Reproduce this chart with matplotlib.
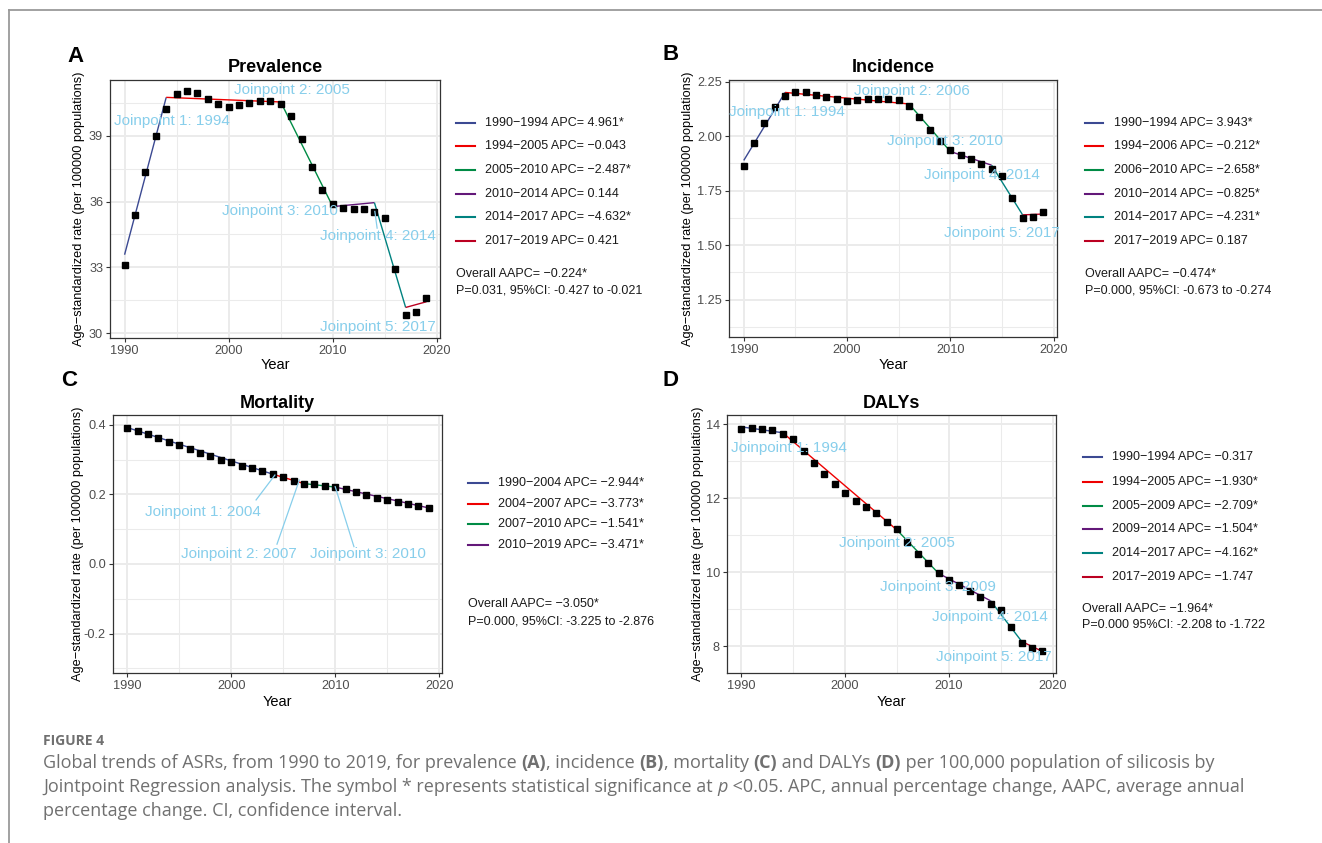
import matplotlib
matplotlib.use("Agg")
import matplotlib.pyplot as plt
from matplotlib.lines import Line2D

W, H = 1322, 843
plt.rcParams['font.family'] = ['Liberation Sans', 'DejaVu Sans']

# ---------------- data ----------------
years = list(range(1990, 2020))

prevalence = [33.12, 35.39, 37.36, 38.98, 40.23, 40.88, 41.03, 40.92, 40.67, 40.45,
              40.32, 40.38, 40.47, 40.56, 40.59, 40.44, 39.89, 38.83, 37.59, 36.53,
              35.89, 35.71, 35.67, 35.64, 35.53, 35.24, 32.92, 30.83, 30.97, 31.61]
incidence = [1.864, 1.968, 2.062, 2.134, 2.184, 2.204, 2.201, 2.190, 2.178, 2.169,
             2.163, 2.166, 2.169, 2.172, 2.171, 2.166, 2.139, 2.088, 2.029, 1.977,
             1.939, 1.916, 1.895, 1.873, 1.851, 1.819, 1.715, 1.627, 1.631, 1.651]
mortality = [0.391, 0.382, 0.372, 0.362, 0.350, 0.343, 0.331, 0.320, 0.310, 0.300,
             0.292, 0.281, 0.275, 0.268, 0.259, 0.251, 0.239, 0.231, 0.229, 0.224,
             0.220, 0.214, 0.208, 0.199, 0.190, 0.185, 0.179, 0.173, 0.167, 0.161]
dalys = [13.87, 13.89, 13.88, 13.85, 13.74, 13.59, 13.28, 12.95, 12.66, 12.38,
         12.14, 11.92, 11.76, 11.60, 11.37, 11.17, 10.82, 10.50, 10.24, 9.97,
         9.79, 9.65, 9.50, 9.34, 9.14, 8.98, 8.53, 8.08, 7.95, 7.88]

# joinpoint segment end years and fitted values at those years
prev_jp_years = [1990, 1994, 2005, 2010, 2014, 2017, 2019]
prev_jp_fit = [33.58, 40.74, 40.53, 35.77, 35.95, 31.18, 31.44]
inc_jp_years = [1990, 1994, 2006, 2010, 2014, 2017, 2019]
inc_jp_fit = [1.889, 2.201, 2.148, 1.930, 1.867, 1.639, 1.643]
mort_jp_years = [1990, 2004, 2007, 2010, 2019]
mort_jp_fit = [0.392, 0.258, 0.231, 0.221, 0.161]
daly_jp_years = [1990, 1994, 2005, 2009, 2014, 2017, 2019]
daly_jp_fit = [13.93, 13.77, 11.14, 9.97, 9.23, 8.13, 7.86]

prev_legend = ["1990\u22121994 APC= 4.961*", "1994\u22122005 APC= \u22120.043",
               "2005\u22122010 APC= \u22122.487*", "2010\u22122014 APC= 0.144",
               "2014\u22122017 APC= \u22124.632*", "2017\u22122019 APC= 0.421"]
inc_legend = ["1990\u22121994 APC= 3.943*", "1994\u22122006 APC= \u22120.212*",
              "2006\u22122010 APC= \u22122.658*", "2010\u22122014 APC= \u22120.825*",
              "2014\u22122017 APC= \u22124.231*", "2017\u22122019 APC= 0.187"]
mort_legend = ["1990\u22122004 APC= \u22122.944*", "2004\u22122007 APC= \u22123.773*",
               "2007\u22122010 APC= \u22121.541*", "2010\u22122019 APC= \u22123.471*"]
daly_legend = ["1990\u22121994 APC= \u22120.317", "1994\u22122005 APC= \u22121.930*",
               "2005\u22122009 APC= \u22122.709*", "2009\u22122014 APC= \u22121.504*",
               "2014\u22122017 APC= \u22124.162*", "2017\u22122019 APC= \u22121.747"]

prev_overall = ["Overall AAPC= \u22120.224*", "P=0.031, 95%CI: -0.427 to -0.021"]
inc_overall = ["Overall AAPC= \u22120.474*", "P=0.000, 95%CI: -0.673 to -0.274"]
mort_overall = ["Overall AAPC= \u22123.050*", "P=0.000, 95%CI: -3.225 to -2.876"]
daly_overall = ["Overall AAPC= \u22121.964*", "P=0.000 95%CI: -2.208 to -1.722"]

titles = ["Prevalence", "Incidence", "Mortality", "DALYs"]
panel_letters = ["A", "B", "C", "D"]

x_ticks = [1990, 2000, 2010, 2020]
prev_yticks = [30, 33, 36, 39]
inc_yticks = [1.25, 1.50, 1.75, 2.00, 2.25]
mort_yticks = [-0.2, 0.0, 0.2, 0.4]
daly_yticks = [8, 10, 12, 14]

palette = ["#3B4992", "#EE0000", "#008B45", "#631879", "#008280", "#BB0021"]
label_color = "#87CEEB"

# ---------------- figure ----------------
fig = plt.figure(figsize=(W / 100, H / 100), dpi=100)
fig.patch.set_facecolor('white')


def P(x, y):
    return x / W, 1 - y / H


def make_axes(l, t, r, b):
    return fig.add_axes([l / W, 1 - b / H, (r - l) / W, (b - t) / H])


panels = [
    dict(box=(110, 80, 440, 338), y=prevalence, jy=prev_jp_years, jf=prev_jp_fit,
         yticks=prev_yticks, ylabels=["30", "33", "36", "39"],
         yminor=[31.5, 34.5, 37.5, 40.5], ylim=(29.79, 41.53),
         legend=prev_legend, overall=prev_overall,
         leg_key=(456, 475), leg_text=485, leg_rows=[122.7, 146.3, 170, 193.7, 217.3, 241.3],
         ov_x=456.5, ov_y=[273.7, 290.3],
         letter=(75.5, 56), title_y=68, ylab_x=79, xlab_y=365,
         jlabels=[("Joinpoint 1: 1994", 1994.59, 39.67), ("Joinpoint 2: 2005", 2006.09, 41.08),
                  ("Joinpoint 3: 2010", 2004.97, 35.59), ("Joinpoint 4: 2014", 2014.36, 34.44),
                  ("Joinpoint 5: 2017", 2014.36, 30.29)],
         leaders=[((2014.04, 35.55), (2014.26, 34.79))]),
    dict(box=(729.3, 80, 1056.7, 336.7), y=incidence, jy=inc_jp_years, jf=inc_jp_fit,
         yticks=inc_yticks, ylabels=["1.25", "1.50", "1.75", "2.00", "2.25"],
         yminor=[1.125, 1.375, 1.625, 1.875, 2.125], ylim=(1.08, 2.258),
         legend=inc_legend, overall=inc_overall,
         leg_key=(1085, 1103), leg_text=1114, leg_rows=[122.7, 146.3, 170, 193.7, 217.3, 241.3],
         ov_x=1085, ov_y=[273.7, 290.3],
         letter=(671, 55), title_y=68, ylab_x=688, xlab_y=365,
         jlabels=[("Joinpoint 1: 1994", 1994.18, 2.11), ("Joinpoint 2: 2006", 2006.3, 2.209),
                  ("Joinpoint 3: 2010", 2009.5, 1.977), ("Joinpoint 4: 2014", 2013.1, 1.82),
                  ("Joinpoint 5: 2017", 2014.97, 1.558)],
         leaders=[]),
    dict(box=(112.7, 415, 442.3, 673.3), y=mortality, jy=mort_jp_years, jf=mort_jp_fit,
         yticks=mort_yticks, ylabels=["-0.2", "0.0", "0.2", "0.4"],
         yminor=[-0.3, -0.1, 0.1, 0.3], ylim=(-0.314, 0.428),
         legend=mort_legend, overall=mort_overall,
         leg_key=(468, 488), leg_text=498, leg_rows=[483.3, 503.7, 524.3, 545],
         ov_x=468, ov_y=[604, 621],
         letter=(69, 380), title_y=403, ylab_x=78.3, xlab_y=702,
         jlabels=[("Joinpoint 1: 2004", 1997.26, 0.148), ("Joinpoint 2: 2007", 2000.7, 0.029),
                  ("Joinpoint 3: 2010", 2013.1, 0.029)],
         leaders=[((2002.39, 0.184), (2004.2, 0.2555)), ((2004.4, 0.057), (2006.55, 0.241)),
                  ((2011.8, 0.05), (2010.0, 0.222))]),
    dict(box=(726.7, 415, 1056, 673.3), y=dalys, jy=daly_jp_years, jf=daly_jp_fit,
         yticks=daly_yticks, ylabels=["8", "10", "12", "14"],
         yminor=[9, 11, 13], ylim=(7.27, 14.25),
         legend=daly_legend, overall=daly_overall,
         leg_key=(1082.7, 1101.7), leg_text=1111.7, leg_rows=[457.3, 481.7, 505.7, 529.3, 553.3, 577],
         ov_x=1082.5, ov_y=[609, 624.5],
         letter=(671, 380), title_y=403, ylab_x=698, xlab_y=702,
         jlabels=[("Joinpoint 1: 1994", 1994.6, 13.35), ("Joinpoint 2: 2005", 2004.96, 10.79),
                  ("Joinpoint 3: 2009", 2008.96, 9.59), ("Joinpoint 4: 2014", 2013.9, 8.78),
                  ("Joinpoint 5: 2017", 2014.3, 7.72)],
         leaders=[]),
]

for i, p in enumerate(panels):
    l, t, r, b = p['box']
    ax = make_axes(l, t, r, b)
    ax.set_xlim(1988.6, 2020.3)
    ax.set_ylim(*p['ylim'])
    ax.set_xticks(x_ticks)
    ax.set_xticklabels([str(v) for v in x_ticks])
    ax.set_xticks([1995, 2005, 2015], minor=True)
    ax.set_yticks(p['yticks'])
    ax.set_yticklabels(p['ylabels'])
    ax.set_yticks(p['yminor'], minor=True)
    ax.grid(which='major', color='#EBEBEB', lw=1.4)
    ax.grid(which='minor', color='#EBEBEB', lw=0.75)
    ax.set_axisbelow(True)
    for s in ax.spines.values():
        s.set_color('#333333')
        s.set_linewidth(0.9)
    ax.tick_params(which='major', length=3, width=0.8, color='#333333',
                   labelsize=9.2, labelcolor='#4D4D4D', pad=2)
    ax.tick_params(which='minor', length=0)

    # fitted joinpoint segments
    jy, jf = p['jy'], p['jf']
    for k in range(len(jy) - 1):
        ax.plot(jy[k:k + 2], jf[k:k + 2], color=palette[k], lw=1.0, zorder=3,
                solid_capstyle='butt')
    # observed points
    ax.plot(years, p['y'], ls='none', marker='s', ms=4.6, color='black', zorder=4)

    # joinpoint labels
    for (s, x, y) in p['jlabels']:
        ax.text(x, y, s, color=label_color, fontsize=11, ha='center', va='center',
                zorder=5, clip_on=False)
    for (a, c) in p['leaders']:
        ax.plot([a[0], c[0]], [a[1], c[1]], color=label_color, lw=0.9, zorder=5)

    # title, axis labels
    cx = (l + r) / 2
    fig.text(*P(cx, p['title_y']), titles[i], fontsize=13, fontweight='bold',
             ha='center', va='center', color='black')
    fig.text(*P(cx, p['xlab_y']), "Year", fontsize=10.5, ha='center', va='center',
             color='black')
    fig.text(*P(p['ylab_x'], (t + b) / 2),
             "Age\u2212standardized rate (per 100000 populations)",
             fontsize=9.2, rotation=90, ha='center', va='center', color='black')
    fig.text(*P(*p['letter']), panel_letters[i], fontsize=16, fontweight='bold',
             ha='center', va='center', color='black')

    # legend
    k0, k1 = p['leg_key']
    for k, (lab, yy) in enumerate(zip(p['legend'], p['leg_rows'])):
        fig.add_artist(Line2D([k0 / W, k1 / W], [1 - yy / H, 1 - yy / H],
                              color=palette[k], lw=1.5, transform=fig.transFigure))
        fig.text(*P(p['leg_text'], yy), lab, fontsize=9, ha='left', va='center',
                 color='#1A1A1A')
    for s, yy in zip(p['overall'], p['ov_y']):
        fig.text(*P(p['ov_x'], yy), s, fontsize=9, ha='left', va='center',
                 color='#1A1A1A')

# page frame lines
fig.add_artist(Line2D([9 / W, 1.0], [1 - 10 / H, 1 - 10 / H], color='#9A9A9A', lw=1.3,
                      transform=fig.transFigure))
fig.add_artist(Line2D([9 / W, 9 / W], [1 - 10 / H, 0.0], color='#9A9A9A', lw=1.3,
                      transform=fig.transFigure))

# caption
cap_color = '#707070'
cap_font = ['Open Sans', 'DejaVu Sans']
fig.text(*P(43, 741), "FIGURE 4", fontsize=10, fontweight='bold', color=cap_color,
         ha='left', va='center', family=cap_font)

cap_lines = [
    [("Global trends of ASRs, from 1990 to 2019, for prevalence ", 'normal', 'normal'),
     ("(A)", 'bold', 'normal'), (", incidence ", 'normal', 'normal'),
     ("(B)", 'bold', 'normal'), (", mortality ", 'normal', 'normal'),
     ("(C)", 'bold', 'normal'), (" and DALYs ", 'normal', 'normal'),
     ("(D)", 'bold', 'normal'),
     (" per 100,000 population of silicosis by", 'normal', 'normal')],
    [("Jointpoint Regression analysis. The symbol * represents statistical significance at ", 'normal', 'normal'),
     ("p", 'normal', 'italic'),
     (" <0.05. APC, annual percentage change, AAPC, average annual", 'normal', 'normal')],
    [("percentage change. CI, confidence interval.", 'normal', 'normal')],
]
cap_y = [763, 787.5, 811.5]

renderer = fig.canvas.get_renderer()


def measure(line, size):
    total = 0
    for s, wgt, sty in line:
        t = fig.text(0, 0, s, fontsize=size, fontweight=wgt, fontstyle=sty, family=cap_font)
        total += t.get_window_extent(renderer).width
        t.remove()
    return total


base = 12.0
target = 1211 - 43
cap_size = base * target / measure(cap_lines[0], base)

for line, yy in zip(cap_lines, cap_y):
    x = 43.0
    for s, wgt, sty in line:
        t = fig.text(*P(x, yy), s, fontsize=cap_size, fontweight=wgt, fontstyle=sty,
                     family=cap_font, color=cap_color, ha='left', va='center')
        x += t.get_window_extent(renderer).width

fig.savefig("out.png", dpi=100, facecolor='white')
